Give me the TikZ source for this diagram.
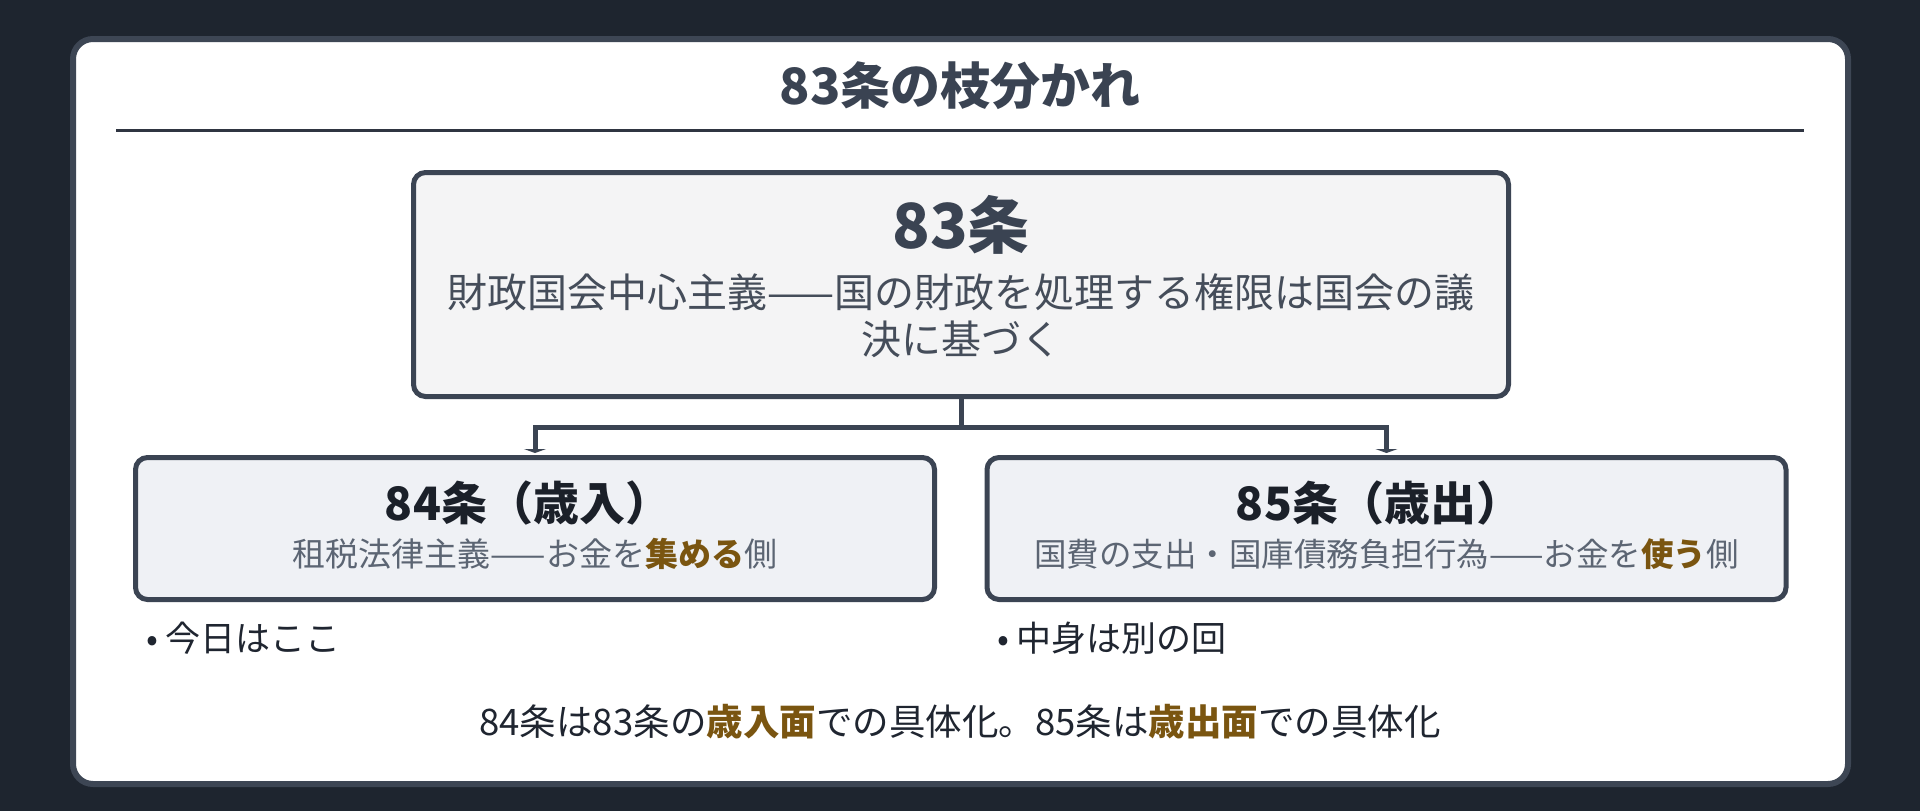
\documentclass[tikz,border=0pt]{standalone}
\usepackage{fontspec}
\setmainfont{Noto Sans CJK JP}
\usepackage{tikz}
\usetikzlibrary{arrows.meta}

\definecolor{pagebg}{HTML}{1E252F}
\definecolor{cardline}{HTML}{3D4654}
\definecolor{boxline}{HTML}{3B4453}
\definecolor{rulecol}{HTML}{2F3541}
\definecolor{topfill}{HTML}{F4F4F5}
\definecolor{subfill}{HTML}{EFF1F5}
\definecolor{titlecol}{HTML}{3A4352}
\definecolor{bodycol}{HTML}{454D5A}
\definecolor{headcol}{HTML}{1B2029}
\definecolor{subcol}{HTML}{5C6573}
\definecolor{notecol}{HTML}{1F2530}
\definecolor{accent}{HTML}{7A5510}

\newcommand{\hl}[1]{\textcolor{accent}{\bfseries #1}}
\newcommand{\fs}[1]{\fontsize{#1}{#1}\selectfont}

\tikzset{
  card/.style={draw=cardline, line width=6pt, fill=white, rounded corners=20pt, inner sep=0pt},
  mainbox/.style={draw=boxline, line width=5pt, fill=topfill, rounded corners=12pt, inner sep=0pt,
    minimum width=1095pt, minimum height=224pt},
  subbox/.style={draw=boxline, line width=5pt, fill=subfill, rounded corners=12pt, inner sep=0pt,
    minimum width=799pt, minimum height=142pt},
  txt/.style={inner sep=0pt, outer sep=0pt},
  link/.style={draw=boxline, line width=5pt},
}

\begin{document}
\begin{tikzpicture}[x=1pt,y=-1pt]
    % Background and card
    \fill[pagebg] (0,0) rectangle (1920,811);
    \node[card, minimum width=1775pt, minimum height=745pt] (card) at (960.5,411.5) {};
    \node[txt, text=titlecol, font=\fs{50}\bfseries] (title) at (960,86) {83条の枝分かれ};
    \draw[rulecol, line width=3pt] (116,130) -- (1804,130);

    % Define nodes
    \node[mainbox] (art83) at (961,284.5) {};
    \node[txt, text=titlecol, font=\fs{62}\bfseries] (art83head) at (961,225) {83条};
    \node[txt, text=bodycol, font=\fs{40}] (art83a) at (961,292) {財政国会中心主義——国の財政を処理する権限は国会の議};
    \node[txt, text=bodycol, font=\fs{40}] (art83b) at (961,339) {決に基づく};

    \node[subbox] (art84) at (535,528.5) {};
    \node[txt, text=headcol, font=\fs{46}\bfseries] (art84head) at (528,503) {84条（歳入）};
    \node[txt, text=subcol, font=\fs{33}] (art84sub) at (535,554) {租税法律主義——お金を\hl{集める}側};

    \node[subbox] (art85) at (1386.5,528.5) {};
    \node[txt, text=headcol, font=\fs{46}\bfseries] (art85head) at (1379,503) {85条（歳出）};
    \node[txt, text=subcol, font=\fs{32.5}] (art85sub) at (1386.5,554) {国費の支出・国庫債務負担行為——お金を\hl{使う}側};

    \node[txt, anchor=west, text=notecol, font=\fs{35}] (note84) at (146,638) {• 今日はここ};
    \node[txt, anchor=west, text=notecol, font=\fs{35}] (note85) at (997,638) {• 中身は別の回};

    \node[txt, text=notecol, font=\fs{36.5}] (summary) at (960,722)
      {84条は83条の\hl{歳入面}での具体化。85条は\hl{歳出面}での具体化};

    % Draw arrows
    \coordinate (split) at (961,427.5);
    \draw[link] (art83.south) -- (split);
    \draw[link, -{Triangle[width=22pt,length=4pt]}, shorten >=2pt] (split) -| (art84.north);
    \draw[link, -{Triangle[width=22pt,length=4pt]}, shorten >=2pt] (split) -| (art85.north);
\end{tikzpicture}
\end{document}
